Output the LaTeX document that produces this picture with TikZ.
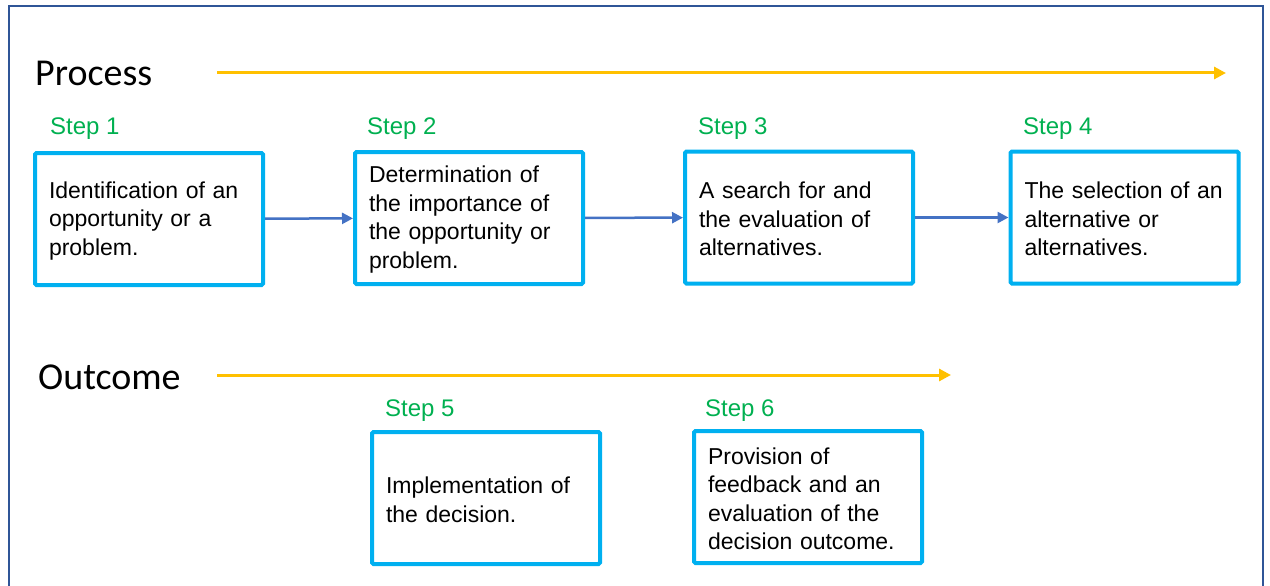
\documentclass[tikz,border=0pt]{standalone}
\usepackage{fontspec}
\setmainfont{Liberation Sans}
\newfontfamily\headfont{Carlito}
\usetikzlibrary{arrows.meta}
\definecolor{frameblue}{HTML}{2F5597}
\definecolor{boxcyan}{HTML}{00B0F0}
\definecolor{stepgreen}{HTML}{00B050}
\definecolor{flowblue}{HTML}{4472C4}
\definecolor{lineorange}{HTML}{FFC000}
\begin{document}
\begin{tikzpicture}[x=1pt,y=-1pt]
     \tikzstyle{box}=[draw=boxcyan, line width=4pt, rounded corners=1.5pt, minimum width=228pt, minimum height=132pt, text width=200pt, align=left, inner sep=0pt, font=\fontsize{23}{28.5}\selectfont]
     \tikzstyle{steplabel}=[text=stepgreen, anchor=base west, inner sep=0pt, font=\fontsize{24}{28}\selectfont]
     \tikzstyle{head}=[anchor=base west, inner sep=0pt, font=\headfont\fontsize{38}{40}\selectfont]
     \tikzstyle{flow}=[draw=flowblue, line width=2.5pt, -{Triangle[length=11pt,width=11pt]}]
     \tikzstyle{timeline}=[draw=lineorange, line width=3pt, -{Triangle[length=12pt,width=12pt]}]
     \useasboundingbox (0,0) rectangle (1270,586);
     \draw[frameblue, line width=2pt] (9,586) -- (9,6) -- (1263,6) -- (1263,586);
     % headings and time lines
     \node[head] (process) at (35,86) {Process};
     \node[head] (outcome) at (38,389) {Outcome};
     \coordinate (p0) at (217,73);
     \coordinate (p1) at (1226,73);
     \coordinate (o0) at (217,375);
     \coordinate (o1) at (951,375);
     \draw[timeline] (p0) -- (p1);
     \draw[timeline] (o0) -- (o1);
     % process steps
     \node[box] (b1) at (149,219) {\strut Identification of an\\opportunity  or a\\problem.};
     \node[box] (b2) at (469,218) {\strut Determination of\\the  importance of\\the opportunity  or\\problem.};
     \node[box] (b3) at (799,217.5) {\strut A search for and\\the evaluation of\\alternatives.};
     \node[box] (b4) at (1124.5,217.5) {\strut The selection of an\\alternative or\\alternatives.};
     \node[steplabel] (s1) at (50,134) {Step 1};
     \node[steplabel] (s2) at (367,134) {Step 2};
     \node[steplabel] (s3) at (698,134) {Step 3};
     \node[steplabel] (s4) at (1023,134) {Step 4};
     \draw[flow] (b1) -- (b2);
     \draw[flow] (b2) -- (b3);
     \draw[flow] (b3) -- (b4);
     % outcome steps
     \node[box] (b5) at (486,498) {\strut Implementation  of\\the decision.};
     \node[box] (b6) at (808,497) {\strut Provision of\\feedback and an\\evaluation of the\\decision outcome.};
     \node[steplabel] (s5) at (385,416) {Step 5};
     \node[steplabel] (s6) at (705,416) {Step 6};
\end{tikzpicture}
\end{document}
